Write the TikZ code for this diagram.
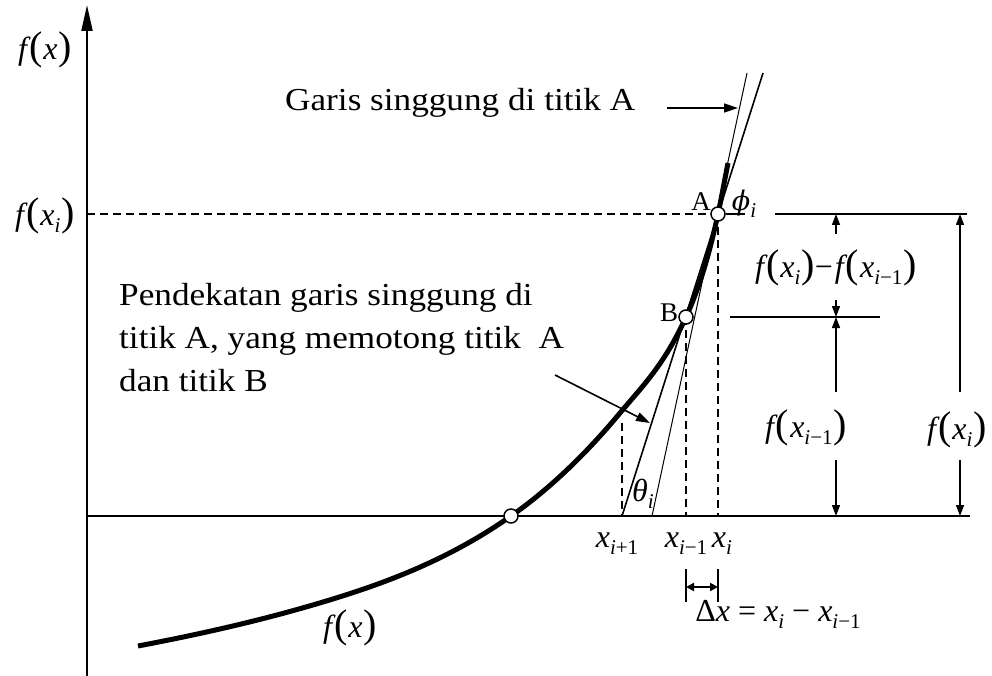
\documentclass[tikz,border=0pt]{standalone}
\usepackage{fontspec}
\setmainfont[FakeStretch=1.1]{Liberation Serif}
\newfontfamily\mfam{Liberation Serif}
\newfontfamily\dvsfam{DejaVu Serif}
\usetikzlibrary{arrows.meta}
\newcommand{\iv}[1]{{\itshape #1}}
\newcommand{\sbs}[1]{\raisebox{-7pt}{\fontsize{21}{21}\selectfont #1}}
\newcommand{\lpr}{{\fontsize{40}{40}\selectfont(}}
\newcommand{\rpr}{{\fontsize{40}{40}\selectfont)}}
\newcommand{\fof}[1]{\iv{f}\kern2pt\lpr\kern1pt#1\kern1pt\rpr}
\newcommand{\xsb}[1]{\iv{x}\sbs{#1}}
\begin{document}
\begin{tikzpicture}[x=1pt,y=-1pt,
  curvestyle/.style={line width=5pt,line cap=butt},
  axisline/.style={line width=2pt},
  thinline/.style={line width=1pt},
  secline/.style={line width=1.6pt},
  dashline/.style={line width=1.6pt,dash pattern=on 8pt off 5pt},
  dimline/.style={line width=1.6pt},
  dimarrow/.style={line width=1.4pt,-{Triangle[length=11pt,width=8pt]}},
  ptarrow/.style={line width=1.6pt,-{Triangle[length=14pt,width=9pt]}},
  pt/.style={circle,draw,fill=white,line width=1.5pt,inner sep=0pt,minimum size=14pt},
  txt/.style={font=\fontsize{32}{43}\selectfont,inner sep=0pt},
  ptxt/.style={font=\mfam\fontsize{27}{30}\selectfont,inner sep=0pt},
  mth/.style={font=\mfam\fontsize{32}{36}\selectfont,inner sep=0pt}]
\useasboundingbox (0,0) rectangle (992,676);
% axes
\coordinate (yb) at (87,676);
\coordinate (yt) at (87,5);
\coordinate (xl) at (87,516);
\coordinate (xr) at (970,516);
\draw[axisline,-{Triangle[length=26pt,width=11pt]}] (yb) -- (yt);
\draw[axisline] (xl) -- (xr);
% points coordinates
\coordinate (P0) at (138,646);
\coordinate (P1) at (323,602);
\coordinate (Zc) at (511,516);
\coordinate (P3) at (620,413);
\coordinate (Bc) at (686,317);
\coordinate (Ac) at (718,214);
\coordinate (P6) at (728,163);
% curve
\draw[curvestyle] (P0) .. controls (199.7,634.3) and (261.3,620.5) .. (P1)
  .. controls (385.7,583.2) and (448.3,559.9) .. (Zc)
  .. controls (547.3,490.6) and (583.7,456.6) .. (P3)
  .. controls (642,386.6) and (664,365.4) .. (Bc)
  .. controls (696.7,293.5) and (707.3,263.7) .. (Ac)
  .. controls (721.3,198.5) and (724.7,179.7) .. (P6);
% tangent and secant
\coordinate (TAt) at (747,73);
\coordinate (TAb) at (652,516);
\coordinate (SAt) at (763,73);
\coordinate (SAb) at (622,516);
\draw[thinline] (TAt) -- (TAb);
\draw[secline] (SAt) -- (SAb);
% dashed lines
\coordinate (fxi) at (87,214);
\coordinate (xi) at (718,516);
\coordinate (xim) at (686,516);
\coordinate (xipt) at (622,423);
\coordinate (xip) at (622,516);
\draw[dashline] (fxi) -- (Ac);
\draw[dashline] (Ac) -- (xi);
\draw[dashline] (Bc) -- (xim);
\draw[dashline] (xipt) -- (xip);
% points
\node[pt] (A) at (Ac) {};
\node[pt] (B) at (Bc) {};
\node[pt] (Z) at (Zc) {};
% horizontal reference lines
\coordinate (phe) at (745,214);
\draw[thinline,line width=1.4pt] (A.east) -- (phe);
\coordinate (h1l) at (775,214);
\coordinate (h1r) at (967,214);
\draw[dimline] (h1l) -- (h1r);
\coordinate (h2l) at (730,317);
\coordinate (h2r) at (880,317);
\draw[dimline] (h2l) -- (h2r);
% labels of points
\node[ptxt] (Alab) at (701,202) {A};
\node[ptxt] (Blab) at (669,313) {B};
\node[mth] (phi) at (744,204) {{\dvsfam\itshape\fontsize{27}{30}\selectfont ϕ}\sbs{\iv{i}}};
\node[mth] (theta) at (643,494) {\iv{θ}\sbs{\iv{i}}};
% axis labels
\node[mth] (fx) at (45,50) {\fof{\iv{x}}};
\node[mth] (fxil) at (45,216) {\fof{\xsb{\iv{i}}}};
\node[mth] (fxc) at (350,628) {\fof{\iv{x}}};
\node[mth] (lxip) at (617,544) {\xsb{\iv{i}+1}};
\node[mth] (lxim) at (686,544) {\xsb{\iv{i}−1}};
\node[mth] (lxi) at (722,544) {\xsb{\iv{i}}};
% dimension arrows
\node[mth] (dlab) at (836,268) {\fof{\xsb{\iv{i}}}−\kern2pt\fof{\xsb{\iv{i}−1}}};
\coordinate (d1a) at (836,234);
\coordinate (d1b) at (836,300);
\coordinate (d1t) at (836,214);
\coordinate (d1u) at (836,317);
\draw[dimarrow] (d1a) -- (d1t);
\draw[dimarrow] (d1b) -- (d1u);
\node[mth] (f1lab) at (806,428) {\fof{\xsb{\iv{i}−1}}};
\coordinate (d2a) at (836,392);
\coordinate (d2b) at (836,460);
\coordinate (d2u) at (836,516);
\draw[dimarrow] (d2a) -- (d1u);
\draw[dimarrow] (d2b) -- (d2u);
\node[mth] (f0lab) at (957,430) {\fof{\xsb{\iv{i}}}};
\coordinate (d3a) at (960,392);
\coordinate (d3b) at (960,460);
\coordinate (d3t) at (960,214);
\coordinate (d3u) at (960,516);
\draw[dimarrow] (d3a) -- (d3t);
\draw[dimarrow] (d3b) -- (d3u);
% delta x
\coordinate (t1a) at (686,569);
\coordinate (t1b) at (686,602);
\coordinate (t2a) at (718,569);
\coordinate (t2b) at (718,602);
\draw[dimline] (t1a) -- (t1b);
\draw[dimline] (t2a) -- (t2b);
\coordinate (da) at (686,587);
\coordinate (db) at (718,587);
\draw[line width=2pt,{Triangle[length=8pt,width=8pt]}-{Triangle[length=8pt,width=8pt]}] (da) -- (db);
\node[mth] (dx) at (778,614) {Δ\iv{x} = \xsb{\iv{i}} − \xsb{\iv{i}−1}};
% texts
\node[txt,anchor=west] (garis) at (285,103) {Garis singgung di titik A};
\coordinate (g1) at (667,108);
\coordinate (g2) at (738,108);
\draw[ptarrow] (g1) -- (g2);
\node[txt,anchor=north west,align=left] (pend) at (119,283) {Pendekatan garis singgung di\\titik A, yang memotong titik\ \ A\\dan titik B};
\coordinate (p1) at (555,375);
\coordinate (p2) at (650,423);
\draw[ptarrow] (p1) -- (p2);
\end{tikzpicture}
\end{document}
